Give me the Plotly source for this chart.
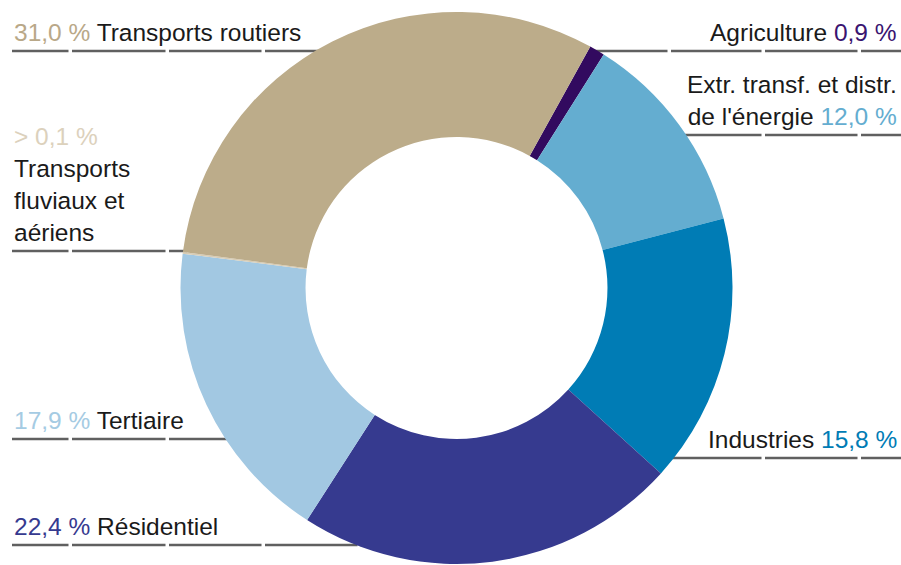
import math

import plotly.graph_objects as go

# données (répartition en %)
secteurs = ["Agriculture", "Extr. transf. et distr. de l'énergie", "Industries",
            "Résidentiel", "Tertiaire", "Transports fluviaux et aériens",
            "Transports routiers"]
parts = [0.9, 12.0, 15.8, 22.4, 17.9, 0.1, 31.0]
couleurs = ["#320A5F", "#64ADD0", "#007CB5", "#363A8F", "#A2C8E2", "#D8CCB4", "#BCAC8A"]
couleurs_pct = ["#3A1470", "#64ADD0", "#007CB5", "#363A8F", "#A5CBE3", "#DCD1BC", "#B9A888"]
noms_affiches = ["Agriculture", "Extr. transf. et distr.<br>de l'énergie", "Industries",
                 "Résidentiel", "Tertiaire", "Transports<br>fluviaux et<br>aériens",
                 "Transports routiers"]

W, H = 901, 565
CX, CY, R = 456.5, 288, 276  # centre et rayon du donut (px)

# position des étiquettes : côté, y de la règle (px)
placement = {
    "Agriculture": ("right", 51),
    "Extr. transf. et distr. de l'énergie": ("right", 135),
    "Industries": ("right", 458),
    "Résidentiel": ("left", 545),
    "Tertiaire": ("left", 439),
    "Transports fluviaux et aériens": ("left", 251),
    "Transports routiers": ("left", 51),
}
coupures = [70, 167, 263, 359, 576, 669, 763, 859]  # interruptions des règles


def fmt(v, nom):
    s = ("%.1f" % v).replace(".", ",") + " %"
    if nom == "Transports fluviaux et aériens":
        s = "> " + s
    return s


def px(x):
    return x / W


def py(y):
    return 1 - y / H


fig = go.Figure(go.Pie(
    labels=secteurs,
    values=parts,
    marker=dict(colors=couleurs, line=dict(width=0)),
    hole=0.547,
    sort=False,
    direction="clockwise",
    rotation=29,
    textinfo="none",
    domain=dict(x=[(CX - R) / W, (CX + R) / W], y=[(H - CY - R) / H, (H - CY + R) / H]),
))

annotations = []
shapes = []
police = dict(family="Liberation Sans, Arial, sans-serif", size=24.5, color="#1A1A1A")

for nom, nom_aff, v, c in zip(secteurs, noms_affiches, parts, couleurs_pct):
    cote, yr = placement[nom]
    pct = "<span style='color:%s'>%s</span>" % (c, fmt(v, nom))
    if cote == "left":
        if nom == "Transports fluviaux et aériens":
            texte = pct + "<br>" + nom_aff
        else:
            texte = pct + " " + nom_aff
        x, xa = 12, "left"
    else:
        texte = nom_aff + " " + pct
        x, xa = 899, "right"
    annotations.append(dict(
        x=px(x), y=py(yr - 3), xref="paper", yref="paper",
        xanchor=xa, yanchor="bottom", align=xa, showarrow=False,
        text=texte, font=police,
    ))

    # règle horizontale jusqu'au bord du donut
    dx = math.sqrt(max(R * R - (yr - CY) ** 2, 0))
    if cote == "left":
        x0, x1 = 12, CX - dx + 4
    else:
        x0, x1 = CX + dx - 4, W
    pts = [x0] + [g for g in coupures if x0 < g < x1] + [x1]
    for i in range(len(pts) - 1):
        a = pts[i] + (2 if i > 0 else 0)
        b = pts[i + 1] - (1.5 if i < len(pts) - 2 else 0)
        shapes.append(dict(
            type="line", xref="paper", yref="paper", layer="below",
            x0=px(a), x1=px(b), y0=py(yr), y1=py(yr),
            line=dict(color="#606060", width=2.5),
        ))

fig.update_layout(
    width=W, height=H,
    margin=dict(l=0, r=0, t=0, b=0),
    showlegend=False,
    paper_bgcolor="white",
    plot_bgcolor="white",
    annotations=annotations,
    shapes=shapes,
)

fig.write_html("out.html", config={"displayModeBar": False},
               post_script="document.body.style.margin='0';")
